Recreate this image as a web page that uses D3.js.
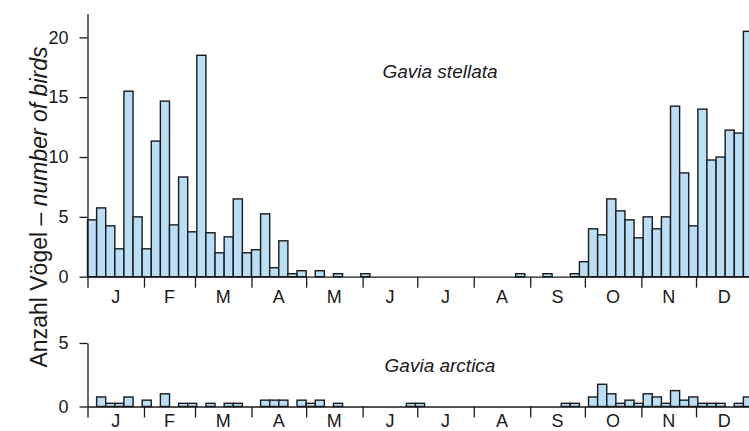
<!DOCTYPE html>
<html><head><meta charset="utf-8">
<script src="https://cdn.jsdelivr.net/npm/d3@7"></script>
<style>
body{margin:0;background:#fff;}
svg{display:block;font-family:"Liberation Sans",Arial,sans-serif;}
</style></head>
<body><svg id="c" width="749" height="431"></svg>
<script>
// Pentad (5-day) counts, 73 per year
const stellata = [
  4.75, 5.75, 4.25, 2.33, 15.5, 5.0,
  2.33, 11.33, 14.67, 4.33, 8.33, 3.75,
  18.5, 3.67, 2.0, 3.33, 6.5, 2.0,
  2.25, 5.25, 0.75, 3.0, 0.25, 0.5,
  0, 0.5, 0, 0.25, 0, 0,
  0.25, 0, 0, 0, 0, 0,
  0, 0, 0, 0, 0, 0,
  0, 0, 0, 0, 0, 0.25,
  0, 0, 0.25, 0, 0, 0.25,
  1.25, 4.0, 3.5, 6.5, 5.5, 4.75,
  3.25, 5.0, 4.0, 5.0, 14.25, 8.67,
  4.25, 14.0, 9.75, 10.0, 12.25, 12.0,
  20.5
];
const arctica = [
  0, 0.75, 0.25, 0.25, 0.75, 0,
  0.5, 0, 1.0, 0, 0.25, 0.25,
  0, 0.25, 0, 0.25, 0.25, 0,
  0, 0.5, 0.5, 0.5, 0, 0.5,
  0.25, 0.5, 0, 0.25, 0, 0,
  0, 0, 0, 0, 0, 0.25,
  0.25, 0, 0, 0, 0, 0,
  0, 0, 0, 0, 0, 0,
  0, 0, 0, 0, 0.25, 0.25,
  0, 0.75, 1.75, 1.0, 0.25, 0.5,
  0.25, 1.0, 0.75, 0.25, 1.25, 0.5,
  0.75, 0.25, 0.25, 0.25, 0, 0.25,
  0.75
];
const months = ["J","F","M","A","M","J","J","A","S","O","N","D"];
const monthStartDays = [0,31,59,90,120,151,181,212,243,273,304,334,365];
const topTicks = [0,5,10,15,20];
const bottomTicks = [0,5];
const titles = ["Gavia stellata","Gavia arctica"];

const svg = d3.select("#c");
const x = d3.scaleLinear().domain([0,365]).range([87.5,752.5]);
const FS = 18;
const ink = "#1a1a1a";

function panel(data, yDomain, yRange, ticks, title, titleY, labelOffset){
  const y = d3.scaleLinear().domain(yDomain).range(yRange);
  const g = svg.append("g");
  g.selectAll("rect").data(data.map((v,i)=>({v,i})).filter(d=>d.v>0))
    .enter().append("rect")
    .attr("x", d=>x(d.i*5))
    .attr("width", d=>x(d.i*5+5)-x(d.i*5))
    .attr("y", d=>y(d.v))
    .attr("height", d=>y(0)-y(d.v))
    .attr("fill","#b9def5")
    .attr("stroke",ink)
    .attr("stroke-width",1.4);
  const ya = g.append("g").attr("transform",`translate(${x(0)},0)`)
    .call(d3.axisLeft(y).tickValues(ticks).tickSize(8).tickSizeOuter(0).tickPadding(11).tickFormat(d3.format("d")));
  ya.select(".domain").attr("stroke",ink).attr("stroke-width",1.3);
  ya.selectAll(".tick line").attr("stroke",ink).attr("stroke-width",1.3);
  ya.selectAll("text").attr("font-size",FS).attr("font-family","Liberation Sans, Arial, sans-serif").attr("fill",ink);
  const xa = g.append("g").attr("transform",`translate(0,${y(0)})`)
    .call(d3.axisBottom(x).tickValues(monthStartDays).tickSize(11).tickSizeOuter(0).tickFormat(""));
  xa.select(".domain").attr("stroke",ink).attr("stroke-width",1.3);
  xa.selectAll(".tick line").attr("stroke",ink).attr("stroke-width",1.3);
  g.selectAll("text.month").data(months).enter().append("text")
    .attr("class","month")
    .attr("x",(d,i)=>x((monthStartDays[i]+monthStartDays[i+1])/2))
    .attr("y",y(0)+labelOffset)
    .attr("text-anchor","middle")
    .attr("font-size",FS).attr("fill",ink).text(d=>d);
  g.append("text").attr("x",440).attr("y",titleY)
    .attr("text-anchor","middle")
    .attr("font-size",19).attr("font-style","italic").attr("fill",ink).text(title);
}

panel(stellata,[0,22],[276.7,13.4],topTicks,titles[0],78,26);
panel(arctica,[0,5],[406.5,343],bottomTicks,titles[1],372,20);

const yl = svg.append("text")
  .attr("transform","translate(47,207) rotate(-90)")
  .attr("text-anchor","middle")
  .attr("font-size",23).attr("fill",ink);
yl.append("tspan").text("Anzahl Vögel – ");
yl.append("tspan").attr("font-style","italic").text("number of birds");
</script>
</body></html>
